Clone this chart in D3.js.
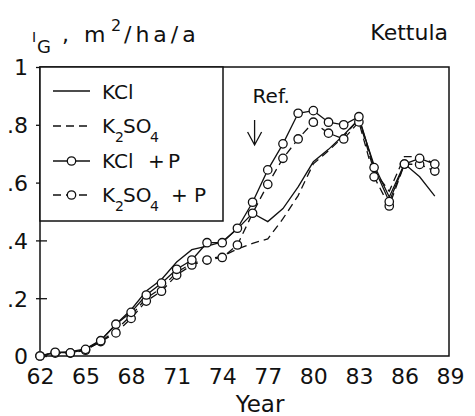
<!DOCTYPE html>
<html><head><meta charset="utf-8">
<script src="https://cdn.jsdelivr.net/npm/d3@7"></script>
<style>body{margin:0;background:#fff}svg{display:block}text{font-family:"DejaVu Sans",sans-serif;fill:#111}</style>
</head><body><svg id="c" width="475" height="416"></svg>
<script>
const years = d3.range(62, 89);
const kcl      = [0.0,0.012,0.015,0.025,0.055,0.11,0.16,0.225,0.265,0.325,0.368,0.38,0.395,0.44,0.494,0.465,0.51,0.585,0.672,0.715,0.765,0.82,0.66,0.55,0.665,0.62,0.553];
const k2so4    = [0.0,0.01,0.012,0.022,0.05,0.09,0.14,0.2,0.235,0.29,0.32,0.335,0.345,0.37,0.39,0.405,0.475,0.555,0.665,0.71,0.76,0.82,0.64,0.57,0.69,0.69,0.665];
const kclP     = [0.0,0.013,0.011,0.023,0.053,0.11,0.151,0.211,0.252,0.300,0.332,0.392,0.392,0.442,0.532,0.644,0.734,0.84,0.849,0.809,0.80,0.828,0.652,0.534,0.664,0.684,0.664];
const k2so4P   = [0.0,0.01,0.01,0.02,0.05,0.08,0.13,0.19,0.224,0.28,0.315,0.332,0.341,0.384,0.494,0.594,0.684,0.751,0.809,0.771,0.751,0.81,0.62,0.519,0.664,0.663,0.64];
const xTicks = [62,65,68,71,74,77,80,83,86,89];
const yTicks = [0,0.2,0.4,0.6,0.8,1];
const yTickLabels = ["0",".2",".4",".6",".8","1"];

const svg = d3.select("#c");
const x = d3.scaleLinear().domain([62,89]).range([40,450]);
const y = d3.scaleLinear().domain([0,1]).range([356,67]);
const ink = "#111";

// frame
svg.append("rect").attr("x",x(62)).attr("y",y(1)).attr("width",x(89)-x(62)-1).attr("height",y(0)-y(1))
  .attr("fill","none").attr("stroke",ink).attr("stroke-width",1.5);

// y axis
const ya = svg.append("g").attr("transform",`translate(${x(62)},0)`)
  .call(d3.axisLeft(y).tickValues(yTicks).tickFormat((d,i)=>yTickLabels[i]).tickSize(4).tickPadding(8));
ya.select(".domain").remove();
ya.selectAll(".tick line").attr("x1",7).attr("stroke",ink).attr("stroke-width",1.3);
ya.selectAll(".tick text").attr("font-size",22).attr("font-family","DejaVu Sans").attr("fill",ink).attr("dy","0.36em");

// x axis
const xa = svg.append("g").attr("transform",`translate(0,${y(0)})`)
  .call(d3.axisBottom(x).tickValues(xTicks).tickFormat(d3.format("d")).tickSize(0).tickPadding(12));
xa.select(".domain").remove();
xa.selectAll(".tick text").attr("font-size",22).attr("font-family","DejaVu Sans").attr("fill",ink);

svg.append("text").attr("x",260).attr("y",412).attr("text-anchor","middle").attr("font-size",23).text("Year");
svg.append("text").attr("x",448).attr("y",40).attr("text-anchor","end").attr("font-size",22).text("Kettula");

// y title
const t = svg.append("text").attr("y",42).attr("font-size",22);
t.append("tspan").attr("x",32).attr("font-size",14).text("I");
t.append("tspan").attr("x",37).attr("y",53).attr("font-size",18).text("G");
t.append("tspan").attr("x",62).attr("y",42).text(",");
t.append("tspan").attr("x",84).text("m");
t.append("tspan").attr("x",111).attr("y",31).attr("font-size",16).text("2");
t.append("tspan").attr("x",124).attr("y",42).attr("letter-spacing",4).text("/ha/a");

// lines
const line = d3.line().x((d,i)=>x(years[i])).y(d=>y(d));
const series = [
  {v:kcl, dash:null, mark:false},
  {v:k2so4, dash:"8,5", mark:false},
  {v:k2so4P, dash:"8,5", mark:true},
  {v:kclP, dash:null, mark:true}
];
series.forEach(s=>{
  svg.append("path").attr("d",line(s.v)).attr("fill","none").attr("stroke",ink).attr("stroke-width",1.3)
    .attr("stroke-dasharray",s.dash);
});
series.filter(s=>s.mark).forEach(s=>{
  svg.append("g").selectAll("circle").data(s.v).join("circle")
    .attr("cx",(d,i)=>x(years[i])).attr("cy",d=>y(d)).attr("r",4.2)
    .attr("fill","#fff").attr("stroke",ink).attr("stroke-width",1.3);
});

// Ref annotation
const rx = x(76)+2;
svg.append("text").attr("x",rx-2).attr("y",103).attr("font-size",20).text("Ref.");
svg.append("path").attr("d",`M${rx},120V145M${rx-7},132L${rx},145L${rx+7},132`).attr("fill","none").attr("stroke",ink).attr("stroke-width",1.3);

// legend
svg.append("rect").attr("x",x(62)).attr("y",y(1)).attr("width",183).attr("height",154)
  .attr("fill","#fff").attr("stroke",ink).attr("stroke-width",1.5);
const legRows = [91,126,161,195];
const legDash = [null,"8,5",null,"8,5"];
const legMark = [false,false,true,true];
legRows.forEach((ry,i)=>{
  svg.append("line").attr("x1",53).attr("x2",90).attr("y1",ry).attr("y2",ry).attr("stroke",ink).attr("stroke-width",1.3).attr("stroke-dasharray",legDash[i]);
  if(legMark[i]) svg.append("circle").attr("cx",71.5).attr("cy",ry).attr("r",4.2).attr("fill","#fff").attr("stroke",ink).attr("stroke-width",1.3);
});
const fs = 20;
svg.append("text").attr("x",102).attr("y",99).attr("font-size",fs).text("KCl");
const l2 = svg.append("text").attr("x",102).attr("y",133).attr("font-size",fs);
l2.append("tspan").text("K"); l2.append("tspan").attr("x",115).attr("y",142).attr("font-size",14).text("2");
l2.append("tspan").attr("x",123).attr("y",133).text("SO"); l2.append("tspan").attr("x",150).attr("y",142).attr("font-size",14).text("4");
const l3 = svg.append("text").attr("x",102).attr("y",168).attr("font-size",fs);
l3.append("tspan").text("KCl"); l3.append("tspan").attr("x",148).text("+"); l3.append("tspan").attr("x",168).text("P");
const l4 = svg.append("text").attr("x",102).attr("y",202).attr("font-size",fs);
l4.append("tspan").text("K"); l4.append("tspan").attr("x",115).attr("y",211).attr("font-size",14).text("2");
l4.append("tspan").attr("x",123).attr("y",202).text("SO"); l4.append("tspan").attr("x",150).attr("y",211).attr("font-size",14).text("4");
l4.append("tspan").attr("x",171).attr("y",202).text("+"); l4.append("tspan").attr("x",194).text("P");
</script></body></html>
